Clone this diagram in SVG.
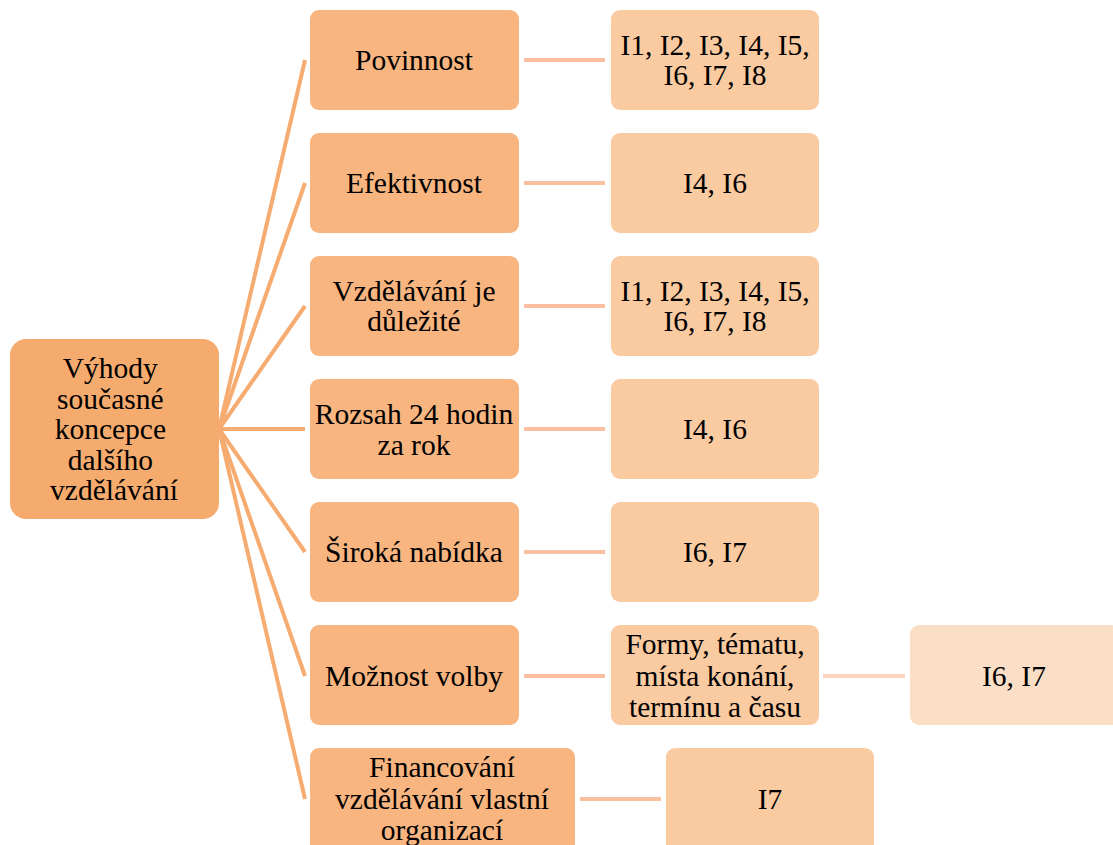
<svg xmlns="http://www.w3.org/2000/svg" width="1113" height="845" viewBox="0 0 1113 845">
  <style>
    .root { fill: #F6AB6E; }
    .l1 { fill: #F8B57F; }
    .l2 { fill: #FACAA1; }
    .l3 { fill: #FBDEC6; }
    .c0 { stroke: #F6AB70; stroke-width: 4; fill: none; }
    .c1 { stroke: #F9BF9F; stroke-width: 4; fill: none; }
    .c2 { stroke: #FAD4BF; stroke-width: 4; fill: none; }
  </style>
  <rect width="1113" height="845" fill="#FFFFFF"/>

  <g id="connectors">
    <!-- root to first level -->
    <line class="c0" x1="219" y1="429" x2="305" y2="60"/>
    <line class="c0" x1="219" y1="429" x2="305" y2="183"/>
    <line class="c0" x1="219" y1="429" x2="305" y2="306"/>
    <line class="c0" x1="219" y1="429" x2="305" y2="429"/>
    <line class="c0" x1="219" y1="429" x2="305" y2="552"/>
    <line class="c0" x1="219" y1="429" x2="305" y2="676"/>
    <line class="c0" x1="219" y1="429" x2="305" y2="799"/>
    <!-- first level to second level -->
    <line class="c1" x1="524" y1="60" x2="605" y2="60"/>
    <line class="c1" x1="524" y1="183" x2="605" y2="183"/>
    <line class="c1" x1="524" y1="306" x2="605" y2="306"/>
    <line class="c1" x1="524" y1="429" x2="605" y2="429"/>
    <line class="c1" x1="524" y1="552" x2="605" y2="552"/>
    <line class="c1" x1="524" y1="676" x2="605" y2="676"/>
    <line class="c1" x1="580" y1="799" x2="661" y2="799"/>
    <!-- second level to third level -->
    <line class="c2" x1="823" y1="676" x2="905" y2="676"/>
  </g>

  <g id="root">
    <rect class="root" x="10" y="339" width="209" height="180" rx="16"/>
    <text font-family="Liberation Serif, serif" font-size="29.5" text-anchor="middle" fill="#000">
      <tspan x="114" y="378">Výhody</tspan>
      <tspan x="114" y="408.5">současné</tspan>
      <tspan x="114" y="439">koncepce</tspan>
      <tspan x="114" y="469.5">dalšího</tspan>
      <tspan x="114" y="500">vzdělávání</tspan>
    </text>
  </g>

  <g id="povinnost">
    <rect class="l1" x="310" y="10" width="209" height="100" rx="9"/>
    <text font-family="Liberation Serif, serif" font-size="29.5" text-anchor="middle" fill="#000" x="414" y="70">Povinnost</text>
  </g>
  <g id="povinnost-i">
    <rect class="l2" x="611" y="10" width="208" height="100" rx="9"/>
    <text font-family="Liberation Serif, serif" font-size="29.5" text-anchor="middle" fill="#000"><tspan x="715" y="55">I1, I2, I3, I4, I5,</tspan><tspan x="715" y="85">I6, I7, I8</tspan></text>
  </g>

  <g id="efektivnost">
    <rect class="l1" x="310" y="133" width="209" height="100" rx="9"/>
    <text font-family="Liberation Serif, serif" font-size="29.5" text-anchor="middle" fill="#000" x="414" y="193">Efektivnost</text>
  </g>
  <g id="efektivnost-i">
    <rect class="l2" x="611" y="133" width="208" height="100" rx="9"/>
    <text font-family="Liberation Serif, serif" font-size="29.5" text-anchor="middle" fill="#000" x="715" y="193">I4, I6</text>
  </g>

  <g id="vzdelavani">
    <rect class="l1" x="310" y="256" width="209" height="100" rx="9"/>
    <text font-family="Liberation Serif, serif" font-size="29.5" text-anchor="middle" fill="#000"><tspan x="414" y="301">Vzdělávání je</tspan><tspan x="414" y="331">důležité</tspan></text>
  </g>
  <g id="vzdelavani-i">
    <rect class="l2" x="611" y="256" width="208" height="100" rx="9"/>
    <text font-family="Liberation Serif, serif" font-size="29.5" text-anchor="middle" fill="#000"><tspan x="715" y="301">I1, I2, I3, I4, I5,</tspan><tspan x="715" y="331">I6, I7, I8</tspan></text>
  </g>

  <g id="rozsah">
    <rect class="l1" x="310" y="379" width="209" height="100" rx="9"/>
    <text font-family="Liberation Serif, serif" font-size="29.5" text-anchor="middle" fill="#000"><tspan x="414" y="424">Rozsah 24 hodin</tspan><tspan x="414" y="455">za rok</tspan></text>
  </g>
  <g id="rozsah-i">
    <rect class="l2" x="611" y="379" width="208" height="100" rx="9"/>
    <text font-family="Liberation Serif, serif" font-size="29.5" text-anchor="middle" fill="#000" x="715" y="439">I4, I6</text>
  </g>

  <g id="nabidka">
    <rect class="l1" x="310" y="502" width="209" height="100" rx="9"/>
    <text font-family="Liberation Serif, serif" font-size="29.5" text-anchor="middle" fill="#000" x="414" y="562">Široká nabídka</text>
  </g>
  <g id="nabidka-i">
    <rect class="l2" x="611" y="502" width="208" height="100" rx="9"/>
    <text font-family="Liberation Serif, serif" font-size="29.5" text-anchor="middle" fill="#000" x="715" y="562">I6, I7</text>
  </g>

  <g id="volba">
    <rect class="l1" x="310" y="625" width="209" height="100" rx="9"/>
    <text font-family="Liberation Serif, serif" font-size="29.5" text-anchor="middle" fill="#000" x="414" y="686">Možnost volby</text>
  </g>
  <g id="volba-formy">
    <rect class="l2" x="611" y="625" width="208" height="100" rx="9"/>
    <text font-family="Liberation Serif, serif" font-size="29.5" text-anchor="middle" fill="#000"><tspan x="715" y="654">Formy, tématu,</tspan><tspan x="715" y="685.5">místa konání,</tspan><tspan x="715" y="717">termínu a času</tspan></text>
  </g>
  <g id="volba-i">
    <rect class="l3" x="910" y="625" width="210" height="100" rx="9"/>
    <text font-family="Liberation Serif, serif" font-size="29.5" text-anchor="middle" fill="#000" x="1014" y="686">I6, I7</text>
  </g>

  <g id="financovani">
    <rect class="l1" x="310" y="748" width="265" height="110" rx="9"/>
    <text font-family="Liberation Serif, serif" font-size="29.5" text-anchor="middle" fill="#000"><tspan x="442" y="777">Financování</tspan><tspan x="442" y="808.5">vzdělávání vlastní</tspan><tspan x="442" y="840">organizací</tspan></text>
  </g>
  <g id="financovani-i">
    <rect class="l2" x="666" y="748" width="208" height="110" rx="9"/>
    <text font-family="Liberation Serif, serif" font-size="29.5" text-anchor="middle" fill="#000" x="770" y="809">I7</text>
  </g>
</svg>
